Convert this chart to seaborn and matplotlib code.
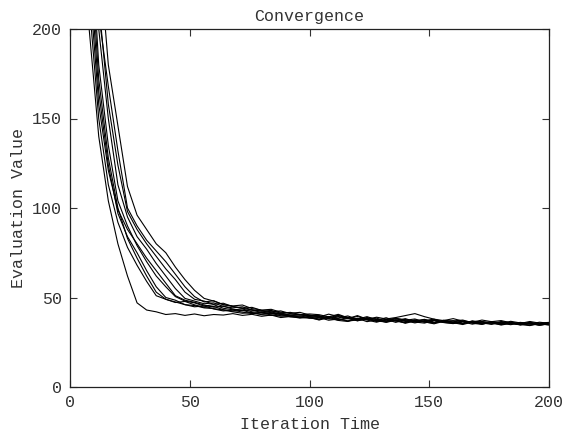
import numpy as np
import pandas as pd
import matplotlib
matplotlib.use("Agg")
import matplotlib.pyplot as plt
import seaborn as sns

# iteration steps (every 4th iteration sampled)
iterations = list(range(0, 201, 4))

# evaluation values per run
run_a = [560, 330, 200, 140, 104, 80, 62, 47, 43, 42, 40.5, 41, 40,
         40.8, 39.8, 40.5, 40.2, 41, 40, 40.6, 39.5, 40.2, 38.8, 39.4, 38.5, 39,
         37.4, 38.9, 38.2, 36.8, 37.5, 38.4, 36.9, 36.3, 37.6, 37.0, 35.8, 36.9, 37.5,
         36.1, 35.6, 36.7, 36.0, 35.2, 36.3, 35.7, 34.8, 35.9, 35.3, 34.6, 35.4]
run_b = [950, 620, 380, 245, 180, 146, 112, 96, 88, 80, 75, 67, 60,
         54, 49.5, 48, 46, 45, 44, 43, 42.5, 41.5, 41, 40.2, 40.6, 39.5,
         39.6, 38.2, 39.8, 38.9, 37.5, 38.8, 37.9, 36.8, 38.2, 37.6, 36.4, 37.1, 37.9,
         36.3, 36.9, 37.4, 35.9, 36.6, 36.0, 35.4, 36.7, 35.8, 35.1, 36.2, 35.6]
run_c = [600, 360, 215, 150, 113, 92, 78, 68, 59, 51, 49, 47.5, 46,
         45.5, 44.2, 43.8, 43, 42, 41.2, 41.6, 40.4, 40, 40.5, 39.2, 38.8, 39.3,
         38.8, 37.3, 38.0, 36.9, 38.3, 37.4, 36.2, 37.6, 36.8, 35.9, 37.3, 36.3, 35.7,
         36.9, 36.0, 35.3, 36.6, 35.8, 35.0, 36.2, 35.5, 34.7, 35.9, 35.1, 34.8]
run_d = [680, 410, 240, 165, 124, 97, 84, 75, 65, 56, 50, 48.5, 46,
         44.8, 45.3, 43.6, 42.5, 43, 41.8, 41, 41.6, 40.2, 39.6, 40.1, 39, 38.4,
         38.6, 39.4, 37.6, 38.2, 37.0, 37.9, 38.5, 36.7, 37.3, 36.1, 37.5, 36.4, 35.9,
         37.2, 35.8, 36.4, 35.1, 36.3, 35.6, 34.9, 35.9, 35.4, 34.6, 35.5, 35.0]
run_e = [750, 460, 270, 180, 135, 104, 90, 79, 70, 62, 56, 50.5, 48,
         47, 45.2, 46, 44, 43.1, 43.6, 42, 41.5, 42, 40.6, 40, 40.5, 39.2,
         37.9, 39.3, 38.6, 39.7, 37.8, 38.1, 36.9, 37.7, 38.3, 36.6, 37.0, 37.8, 36.2,
         36.8, 35.7, 36.9, 36.3, 35.4, 36.5, 35.9, 35.2, 36.1, 35.5, 34.9, 35.7]
run_f = [820, 510, 300, 200, 150, 113, 95, 84, 77, 69, 62, 55, 49.5,
         48, 46.5, 47, 45, 44.2, 44.8, 43, 42.3, 42.8, 41.2, 41.7, 40.5, 40,
         39.9, 38.6, 40.1, 38.3, 39.4, 37.8, 39.0, 38.0, 38.8, 39.9, 41.0, 39.3, 37.9,
         37.1, 38.2, 36.8, 36.2, 37.4, 36.5, 37.1, 35.9, 35.5, 36.6, 35.7, 36.1]
run_g = [880, 560, 335, 215, 158, 124, 98, 88, 80, 73, 66, 60, 53,
         49, 48, 46.2, 46.8, 44.9, 44, 44.5, 42.8, 42, 42.5, 41, 40.4, 40.8,
         40.4, 39.2, 40.6, 38.7, 37.9, 39.3, 37.6, 36.9, 38.4, 37.3, 38.0, 36.4, 37.3,
         36.1, 37.0, 35.6, 36.8, 35.5, 36.4, 35.1, 36.2, 34.9, 35.8, 34.6, 35.2]
run_h = [900, 580, 350, 208, 168, 132, 100, 90, 82, 76, 70, 63, 56,
         50.5, 47.5, 48.2, 46, 45.3, 45.8, 43.8, 43, 43.4, 41.8, 41.2, 41.7, 40.2,
         39.1, 40.7, 39.4, 38.2, 39.9, 37.9, 37.2, 38.7, 36.9, 38.2, 36.5, 37.7, 36.0,
         37.3, 36.8, 35.5, 36.9, 36.3, 35.2, 36.6, 35.9, 34.9, 36.2, 35.2, 35.9]
run_i = [700, 430, 255, 172, 128, 100, 83, 72, 62, 53, 49, 47.2, 47.8,
         45.9, 44.5, 45, 43.2, 42.4, 42.9, 41.3, 40.7, 41.2, 39.8, 39.3, 39.8, 38.6,
         37.7, 39.0, 37.2, 36.6, 38.4, 36.5, 37.6, 36.1, 37.3, 35.6, 36.9, 36.4, 35.3,
         36.7, 35.9, 34.9, 36.3, 35.2, 36.0, 34.6, 35.6, 34.9, 34.3, 35.4, 34.6]
run_j = [640, 390, 228, 158, 121, 99, 88, 80, 72, 65, 58, 51, 48.5,
         47.3, 45.8, 44.6, 45.2, 43.5, 42.6, 43.1, 41.5, 40.9, 41.4, 40, 39.5, 40,
         39.5, 38.1, 37.4, 38.9, 37.0, 38.3, 36.6, 37.8, 36.1, 37.6, 36.3, 35.7, 37.2,
         36.0, 35.4, 36.8, 35.6, 35.0, 36.3, 35.2, 36.0, 34.7, 35.5, 34.5, 35.3]

runs = [run_a, run_b, run_c, run_d, run_e, run_f, run_g, run_h, run_i, run_j]

# long-form table for seaborn
df = pd.concat(
    [pd.DataFrame({"iteration": iterations, "value": r, "run": k}) for k, r in enumerate(runs)],
    ignore_index=True,
)

sns.set_style("ticks")
plt.rcParams["font.family"] = ["Liberation Mono", "DejaVu Sans Mono"]
txt_color = "#333333"

fig = plt.figure(figsize=(5.63, 4.34), dpi=100)
ax = fig.add_axes([70 / 563, 47 / 434, 479 / 563, 358 / 434])

sns.lineplot(data=df, x="iteration", y="value", units="run", estimator=None,
             color="black", linewidth=0.8, ax=ax, legend=False)

ax.set_xlim(0, 200)
ax.set_ylim(0, 200)
ax.set_xticks([0, 50, 100, 150, 200])
ax.set_yticks([0, 50, 100, 150, 200])
ax.tick_params(direction="in", length=5, width=0.8, top=True, right=True,
               labelsize=12, colors=txt_color, pad=6)
for s in ax.spines.values():
    s.set_visible(True)
    s.set_color("#222222")
    s.set_linewidth(0.9)

ax.set_title("Convergence", fontsize=12, pad=6, color=txt_color)
ax.set_xlabel("Iteration Time", fontsize=12, labelpad=5, color=txt_color)
ax.set_ylabel("Evaluation Value", fontsize=12, labelpad=4, color=txt_color)

fig.savefig("out.png", dpi=100)
